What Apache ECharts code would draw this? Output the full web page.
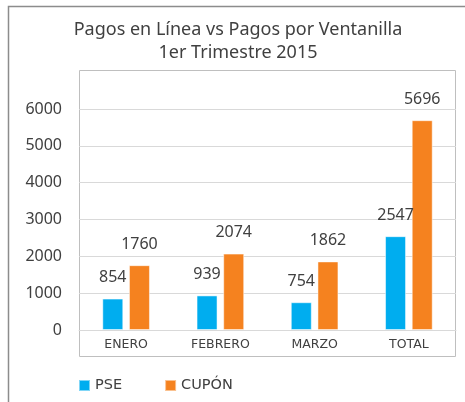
<!DOCTYPE html>
<html>
<head>
<meta charset="utf-8">
<script src="https://cdn.jsdelivr.net/npm/echarts@6/dist/echarts.min.js"></script>
<style>
  html, body { margin: 0; padding: 0; background: #fff; }
  #chart { width: 465px; height: 402px; }
</style>
</head>
<body>
<div id="chart"></div>
<script>
const categories = ["ENERO", "FEBRERO", "MARZO", "TOTAL"];
const pseValues = [854, 939, 754, 2547];
const cuponValues = [1760, 2074, 1862, 5696];
const seriesNames = ["PSE", "CUPÓN"];

const textColor = "#404040";

const chart = echarts.init(document.getElementById("chart"));

const barLabel = {
  show: true,
  position: "top",
  distance: 13,
  color: textColor,
  fontFamily: "Noto Sans",
  fontSize: 16
};

chart.setOption({
  animation: false,
  title: {
    text: "Pagos en Línea vs Pagos por Ventanilla\n1er Trimestre 2015",
    left: 233,
    top: 13,
    textAlign: "center",
    textStyle: {
      color: textColor,
      fontFamily: "Noto Sans",
      fontSize: 18,
      fontWeight: "normal",
      lineHeight: 23
    }
  },
  legend: {
    data: seriesNames,
    left: 73,
    top: 373,
    icon: "rect",
    itemWidth: 11,
    itemHeight: 11,
    itemGap: 42,
    textStyle: {
      color: textColor,
      fontFamily: "DejaVu Sans",
      fontSize: 14.5
    }
  },
  grid: {
    left: 79,
    right: 9,
    top: 109,
    bottom: 72
  },
  xAxis: {
    type: "category",
    data: categories,
    axisLine: { lineStyle: { color: "#d9d9d9" } },
    axisTick: { show: false },
    axisLabel: {
      color: textColor,
      fontFamily: "DejaVu Sans",
      fontSize: 12.5,
      margin: 8
    }
  },
  yAxis: {
    type: "value",
    min: 0,
    max: 6000,
    interval: 1000,
    axisLine: { show: false },
    axisTick: { show: false },
    splitLine: { lineStyle: { color: "#d9d9d9" } },
    axisLabel: {
      color: textColor,
      fontFamily: "Noto Sans",
      fontSize: 16,
      margin: 17,
      formatter: (v) => String(v)
    }
  },
  graphic: [
    {
      type: "polyline",
      silent: true,
      z: -1,
      shape: { points: [[8.5, 402], [8.5, 6.5], [465, 6.5]] },
      style: { fill: null, stroke: "#8c8c8c", lineWidth: 1.5 }
    },
    {
      type: "rect",
      silent: true,
      z: -1,
      shape: { x: 79.5, y: 70.5, width: 376, height: 286 },
      style: { fill: null, stroke: "#bfbfbf", lineWidth: 1 }
    }
  ],
  series: [
    {
      name: seriesNames[0],
      type: "bar",
      data: pseValues,
      barWidth: 21,
      barGap: "27%",
      itemStyle: {
        color: "#00ADEF",
        borderColor: "rgba(255,255,255,0.5)",
        borderWidth: 1
      },
      label: barLabel
    },
    {
      name: seriesNames[1],
      type: "bar",
      data: cuponValues,
      barWidth: 21,
      barGap: "27%",
      itemStyle: {
        color: "#F5821F",
        borderColor: "rgba(255,255,255,0.5)",
        borderWidth: 1
      },
      label: barLabel
    }
  ]
});
</script>
</body>
</html>
